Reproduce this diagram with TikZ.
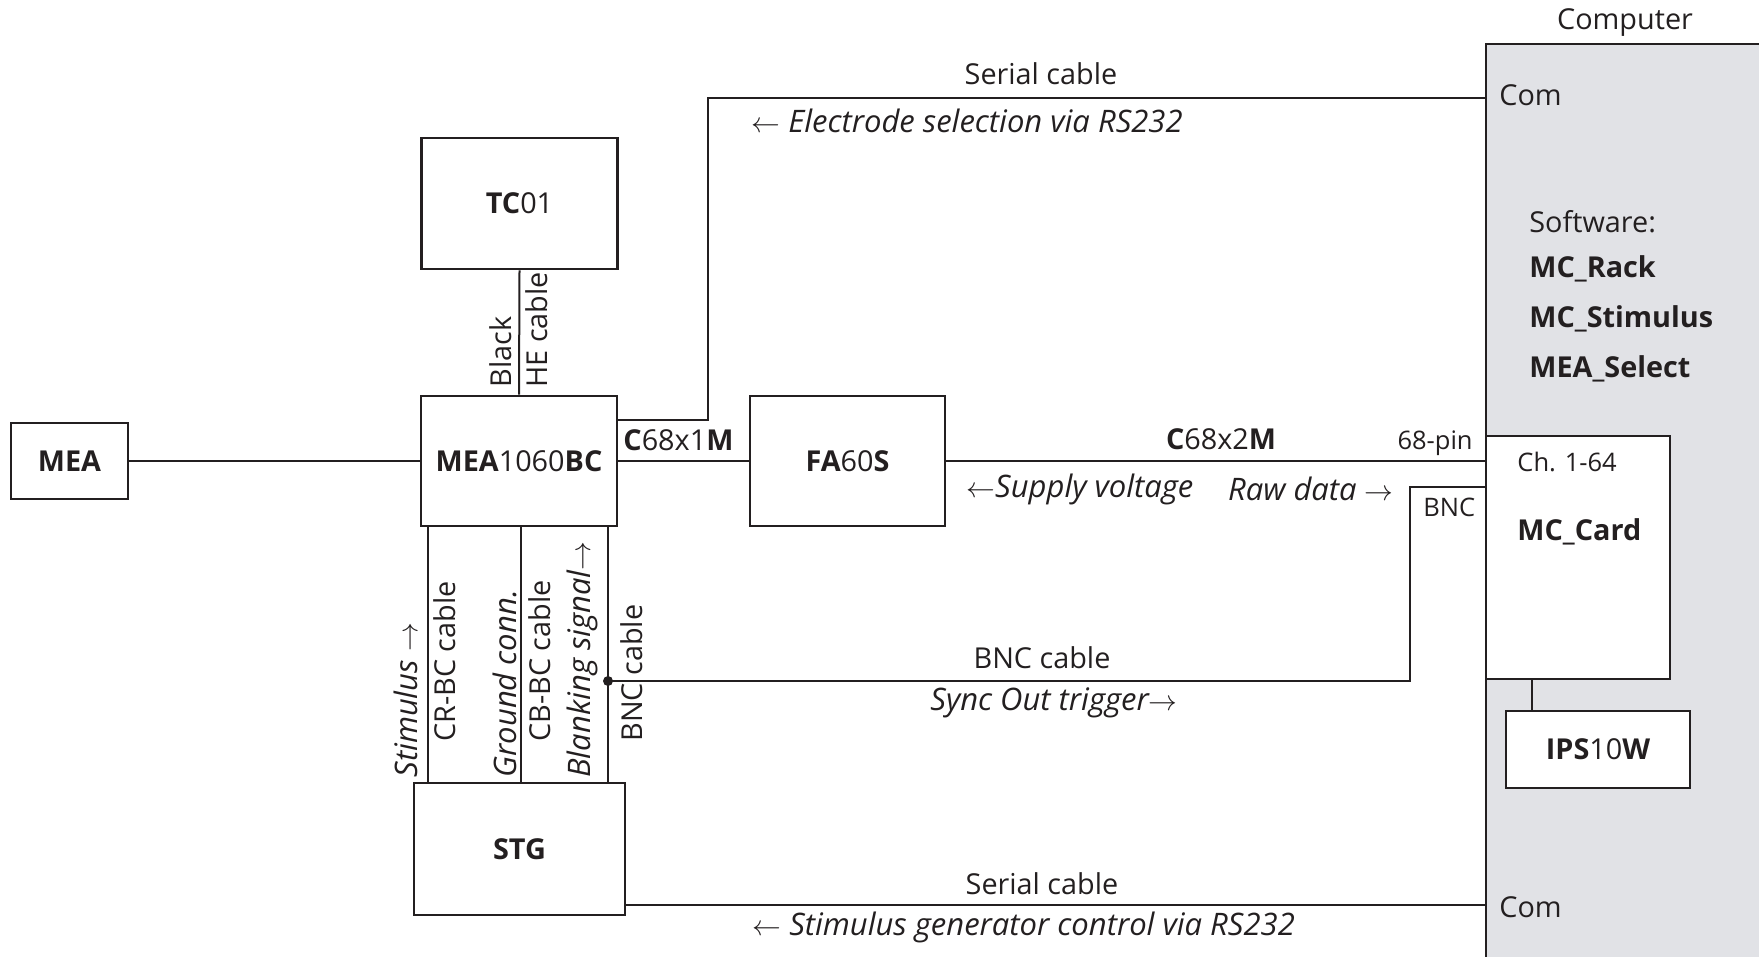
\documentclass[tikz,border=0pt]{standalone}
\usepackage{fontspec}
\setmainfont{Open Sans}
\usetikzlibrary{positioning}
\definecolor{inkdark}{RGB}{35,31,32}
\definecolor{pcgrey}{RGB}{225,226,230}
\tikzset{
  unitbox/.style={draw=inkdark, line width=1.35pt, fill=white, minimum width=98pt, minimum height=65pt, align=center, inner sep=0pt},
  cable/.style={draw=inkdark, line width=1pt},
  tag/.style={inner sep=0pt},
  ittag/.style={inner sep=0pt, font=\fontsize{15.5}{18}\selectfont\itshape},
  smalltag/.style={inner sep=0pt, font=\fontsize{12.75}{15}\selectfont},
  uplabel/.style={rotate=90, inner sep=0pt}
}

\begin{document}
\begin{tikzpicture}[x=0.5pt, y=-0.5pt, every node/.style={font=\fontsize{14.4}{17}\selectfont, text=inkdark}]
  \useasboundingbox (0,0) rectangle (1759,957);
  % computer
  \node[fill=pcgrey, minimum width=136.5pt, minimum height=456.5pt, inner sep=0pt, anchor=north west] (pc) at (1486,44) {};
  \draw[draw=inkdark, line width=1.35pt] (pc.south west) |- (pc.north east);
  \node[tag] (pclbl) at (1625,23) {Computer};
  \node[tag, anchor=west] (comup) at (1499,95) {Com};
  \node[tag, anchor=west] (comdown) at (1499,907) {Com};
  \node[tag, anchor=west] (softw) at (1529,222) {Software:};
  \node[tag, anchor=west] (swrack) at (1529,269) {\textbf{MC\_Rack}};
  \node[tag, anchor=west] (swstim) at (1529,319) {\textbf{MC\_Stimulus}};
  \node[tag, anchor=west] (swsel) at (1529,369) {\textbf{MEA\_Select}};
  \node[unitbox, minimum width=92pt, minimum height=121.5pt] (card) at (1578,557.5) {};
  \node[smalltag, anchor=west] (chan) at (1517,462) {Ch. 1-64};
  \node[tag, anchor=west] (cardlbl) at (1517,532) {\textbf{MC\_Card}};
  \node[unitbox, minimum width=92pt, minimum height=38.5pt] (ips) at (1598,749.5) {\textbf{IPS}10\textbf{W}};

  % devices
  \node[unitbox, minimum width=58.5pt, minimum height=38pt] (mea) at (69.5,461) {\textbf{MEA}};
  \node[unitbox] (bc) at (519,461) {\textbf{MEA}1060\textbf{BC}};
  \node[unitbox, minimum height=65.5pt] (tc) at (519.5,203.5) {\textbf{TC}01};
  \node[unitbox, minimum width=105.5pt, minimum height=66pt] (stg) at (519.5,849) {\textbf{STG}};
  \node[unitbox, minimum width=97.5pt] (fa) at (847.5,461) {\textbf{FA}60\textbf{S}};

  \coordinate (comtop) at (pc.west |- 0,98);
  \coordinate (comstg) at (pc.west |- 0,905);
  \coordinate (bncjack) at (pc.west |- 0,487);
  \coordinate (syncdot) at (608,681);

  % cables
  \draw[cable] (mea.east) -- (bc.west);
  \draw[cable] (bc.east) -- (fa.west);
  \draw[cable] (fa.east) -- (fa.east -| card.west);
  \draw[cable] (tc.south) -- (bc.north);
  \draw[cable] (bc.east |- 0,420) -- (708,420) |- (comtop);
  \foreach \xx in {428,521,608}
    \draw[cable] (bc.south -| \xx,0) -- (stg.north -| \xx,0);
  \draw[cable] (syncdot) -- (1410,681) |- (bncjack);
  \fill[inkdark] (syncdot) circle (2.5pt);
  \draw[cable] (stg.east |- 0,905) -- (comstg);
  \draw[cable] (card.south -| 1532,0) -- (ips.north -| 1532,0);

  % cable labels
  \node[tag] (sertop) at (1041,74) {Serial cable};
  \node[ittag, anchor=west] (seltop) at (751,121) {$\leftarrow$ Electrode selection via RS232};
  \node[tag, anchor=west] (c1m) at (623,440) {\textbf{C}68x1\textbf{M}};
  \node[tag] (c2m) at (1221,439) {\textbf{C}68x2\textbf{M}};
  \node[smalltag, anchor=east] (pin68) at (1473,443) {68-pin};
  \node[smalltag, anchor=west] (bncjlbl) at (1423,507) {BNC};
  \node[ittag, anchor=west] (supply) at (966,489) {$\leftarrow$Supply voltage};
  \node[ittag, anchor=east] (rawdata) at (1394,489) {Raw data $\rightarrow$};
  \node[tag] (bnccab) at (1042,658) {BNC cable};
  \node[ittag, anchor=west] (sync) at (930,703) {Sync Out trigger$\rightarrow$};
  \node[tag] (serbot) at (1042,884) {Serial cable};
  \node[ittag, anchor=west] (stimctl) at (752,927) {$\leftarrow$ Stimulus generator control via RS232};

  % vertical labels
  \node[uplabel, anchor=south west] (blacklbl) at (512,388) {Black};
  \node[uplabel, anchor=north west] (helbl) at (525,388) {HE cable};
  \node[ittag, uplabel, anchor=south west] (stimlbl) at (418,778) {Stimulus $\rightarrow$};
  \node[uplabel, anchor=north west] (crlbl) at (433,742) {CR-BC cable};
  \node[ittag, uplabel, anchor=south west] (gndlbl) at (517,778) {Ground conn.};
  \node[uplabel, anchor=north west] (cblbl) at (528,742) {CB-BC cable};
  \node[ittag, uplabel, anchor=south west] (blanklbl) at (598,778) {Blanking signal$\rightarrow$};
  \node[uplabel, anchor=north west] (bnclbl) at (620,742) {BNC cable};
\end{tikzpicture}
\end{document}
